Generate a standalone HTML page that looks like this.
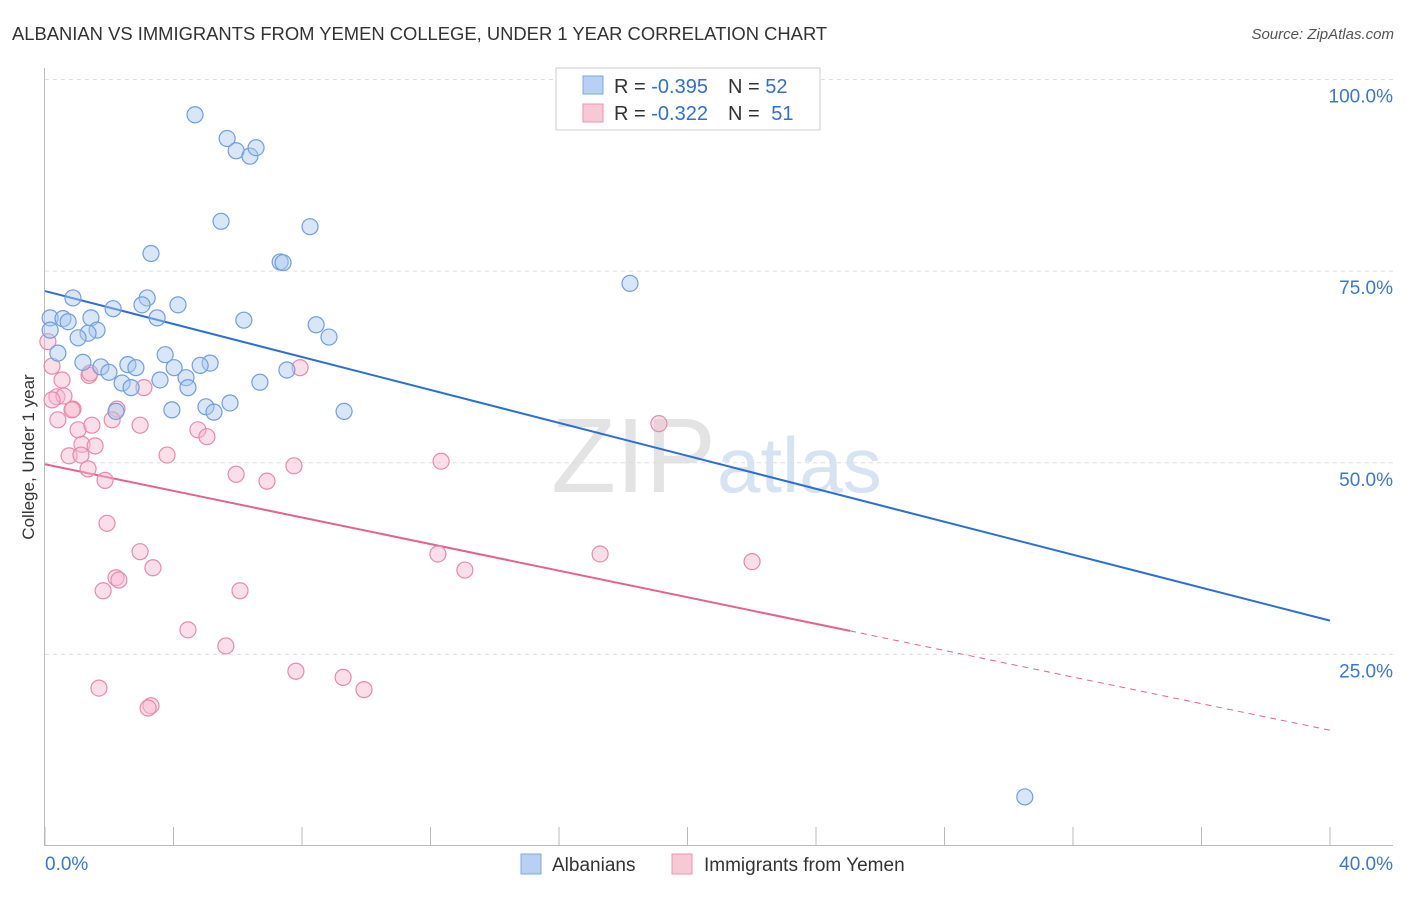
<!DOCTYPE html>
<html><head><meta charset="utf-8"><style>
body{margin:0;background:#fff;font-family:"Liberation Sans",sans-serif;}
svg text{font-family:"Liberation Sans",sans-serif;}
</style></head><body>
<svg id="c" width="1406" height="892">
<text x="12" y="40" font-size="18.4" fill="#333">ALBANIAN VS IMMIGRANTS FROM YEMEN COLLEGE, UNDER 1 YEAR CORRELATION CHART</text>
<text x="1394" y="39" font-size="15" fill="#555" text-anchor="end" font-style="italic">Source: ZipAtlas.com</text>
<text x="716" y="492" font-size="106" fill="#e3e3e3" text-anchor="end" font-family="Liberation Serif">ZIP</text>
<text x="717" y="492" font-size="78" fill="#d6e3f3">atlas</text>
<g id="grid"></g><g id="axes"></g><g id="lines"></g><g id="pts"></g>
<text transform="translate(34,457) rotate(-90)" font-size="17" fill="#333" text-anchor="middle">College, Under 1 year</text>
<g>
<rect x="556" y="68" width="264" height="62" fill="#fff" stroke="#ccc"/>
<rect x="583" y="76" width="20" height="18" fill="#b7d0f3" stroke="#7da7e0"/>
<rect x="583" y="104" width="20" height="18" fill="#f8c8d6" stroke="#eb93b0"/>
<text x="614" y="93" font-size="20" fill="#333">R = <tspan fill="#2f6fd6">-0.395</tspan><tspan dx="20">N = </tspan><tspan fill="#2f6fd6">52</tspan></text>
<text x="614" y="120" font-size="20" fill="#333">R = <tspan fill="#2f6fd6">-0.322</tspan><tspan dx="20">N = </tspan><tspan fill="#2f6fd6" dx="6">51</tspan></text>
</g>
<g>
<rect x="521" y="854" width="20" height="20" fill="#b7d0f3" stroke="#7da7e0"/>
<text x="552" y="871" font-size="19" fill="#333">Albanians</text>
<rect x="672" y="854" width="20" height="20" fill="#f8c8d6" stroke="#eb93b0"/>
<text x="704" y="871" font-size="19" fill="#333">Immigrants from Yemen</text>
</g>
</svg>
<script>
const blueX=[4.67,5.67,5.95,6.38,6.57,5.48,8.25,3.30,7.32,7.41,18.21,0.87,3.18,3.02,4.14,2.12,3.49,6.19,0.16,0.56,0.72,1.43,8.44,1.62,1.34,1.03,8.84,0.40,3.74,1.18,5.14,2.58,4.83,1.74,2.83,4.02,1.99,7.53,4.39,2.40,3.58,6.69,2.68,4.45,5.76,5.01,3.95,5.26,2.21,9.31,30.5,0.16];
const blueY=[95.4,92.3,90.7,90.0,91.1,81.5,80.8,77.3,76.2,76.1,73.4,71.5,71.5,70.6,70.6,70.1,68.9,68.6,68.9,68.8,68.4,68.9,68.0,67.3,66.9,66.3,66.4,64.3,64.1,63.1,63.0,62.8,62.7,62.5,62.4,62.4,61.8,62.1,61.1,60.4,60.8,60.5,59.8,59.8,57.8,57.3,56.9,56.6,56.7,56.7,6.4,67.3];
const pinkX=[0.09,0.22,0.53,1.37,7.94,3.08,0.37,0.59,0.87,2.24,2.09,0.40,1.03,1.46,2.96,4.76,5.04,1.15,1.56,0.75,1.12,3.80,12.33,7.75,1.34,5.95,1.87,6.91,19.11,1.93,2.96,12.23,17.28,22.01,3.36,13.07,2.21,2.30,1.81,6.07,4.45,5.63,7.81,9.28,9.93,1.68,3.30,3.21,1.40,0.84,0.22];
const pinkY=[65.8,62.6,60.8,61.4,62.4,59.8,58.6,58.7,57.0,57.0,55.6,55.6,54.3,54.9,54.9,54.3,53.4,52.4,52.2,50.9,51.0,51.0,50.2,49.6,49.2,48.5,47.7,47.6,55.1,42.1,38.4,38.1,38.1,37.1,36.3,36.0,35.0,34.7,33.3,33.3,28.2,26.1,22.8,22.0,20.4,20.6,18.3,18.0,61.7,56.9,58.2];
const yTicks=[25,50,75,100];
const yTickLabels=["25.0%","50.0%","75.0%","100.0%"];
const blueTrend=[72.4,29.4];
const pinkTrend=[49.8,15.1];
const pinkSolidEnd=25.06;
const NS='http://www.w3.org/2000/svg';
const sx=v=>45+v/40*1285, sy=v=>846-v/100*766.5;
function mk(p,t,a){const e=document.createElementNS(NS,t);for(const k in a)e.setAttribute(k,a[k]);document.getElementById(p).appendChild(e);return e;}
yTicks.forEach((t,i)=>{
 const g=mk('grid','line',{x1:45,x2:1393,y1:sy(t),y2:sy(t),stroke:'#ddd','stroke-dasharray':'4,4'});
 
 
 const tx=mk('grid','text',{x:1393,y:sy(t)+23,'font-size':19,fill:'#3a76d4','text-anchor':'end'});
 tx.textContent=yTickLabels[i];
 
 
});
mk('axes','line',{x1:44.5,x2:44.5,y1:68,y2:846,stroke:'#bbb'});
mk('axes','line',{x1:45,x2:1393,y1:845.5,y2:845.5,stroke:'#bbb'});
for(let i=0;i<=10;i++){const x=sx(i*4);mk('axes','line',{x1:x,x2:x,y1:827,y2:846,stroke:'#bbb'});}
let t0=mk('axes','text',{x:45,y:870,'font-size':19,fill:'#3a76d4'});t0.textContent='0.0%';

let t1=mk('axes','text',{x:1393,y:870,'font-size':19,fill:'#3a76d4','text-anchor':'end'});t1.textContent='40.0%';

function pt(x,y,f,s,n){const c=mk('pts','circle',{cx:sx(x),cy:sy(y),r:8,fill:f,'fill-opacity':0.45,stroke:s,'stroke-width':1.2});
 
 }
pinkX.forEach((x,i)=>pt(x,pinkY[i],'#f6b9cc','#e98aab','yemen-point'));
blueX.forEach((x,i)=>pt(x,blueY[i],'#a9c7f0','#6f9fe0','albanian-point'));
let bl=mk('lines','line',{x1:sx(0),y1:sy(blueTrend[0]),x2:sx(40),y2:sy(blueTrend[1]),stroke:'#2b6fd6','stroke-width':2});

const py=x=>pinkTrend[0]+(pinkTrend[1]-pinkTrend[0])*x/40;
let pl=mk('lines','line',{x1:sx(0),y1:sy(py(0)),x2:sx(pinkSolidEnd),y2:sy(py(pinkSolidEnd)),stroke:'#e4628e','stroke-width':2});

let pd=mk('lines','line',{x1:sx(pinkSolidEnd),y1:sy(py(pinkSolidEnd)),x2:sx(40),y2:sy(py(40)),stroke:'#e4628e','stroke-width':1,'stroke-dasharray':'6,5'});

</script>
</body></html>
